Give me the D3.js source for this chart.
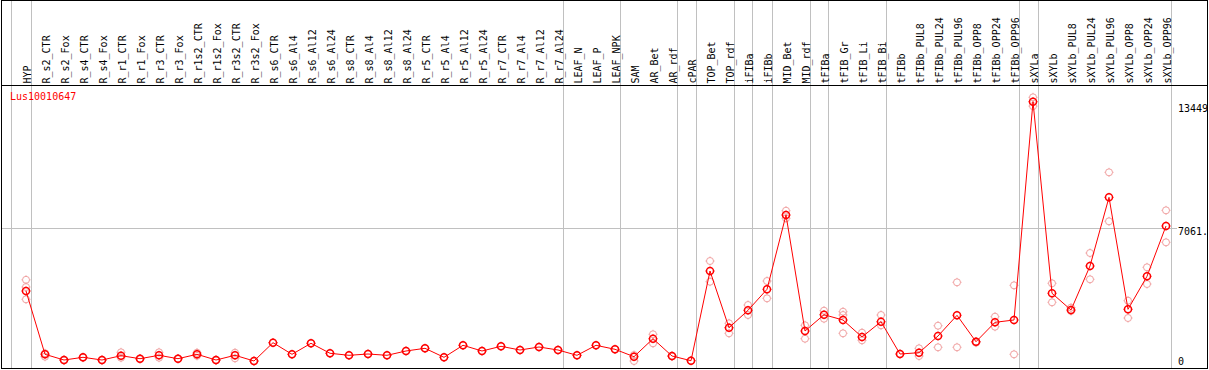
<!DOCTYPE html>
<html lang="en">
<head>
    <meta charset="UTF-8">
    <title>Lus10010647</title>
    <script src="https://d3js.org/d3.v7.min.js"></script>
    <style>
        body { margin: 0; background: #fff; }
        text { font-family: "DejaVu Sans Mono", monospace; font-size: 10px; }
    </style>
</head>
<body>
<div id="chart"></div>
<script>
    const geneId = "Lus10010647";

    const samples = ["HYP", "R_s2_CTR", "R_s2_Fox", "R_s4_CTR", "R_s4_Fox", "R_r1_CTR", "R_r1_Fox",
        "R_r3_CTR", "R_r3_Fox", "R_r1s2_CTR", "R_r1s2_Fox", "R_r3s2_CTR", "R_r3s2_Fox",
        "R_s6_CTR", "R_s6_Al4", "R_s6_Al12", "R_s6_Al24", "R_s8_CTR", "R_s8_Al4", "R_s8_Al12", "R_s8_Al24",
        "R_r5_CTR", "R_r5_Al4", "R_r5_Al12", "R_r5_Al24", "R_r7_CTR", "R_r7_Al4", "R_r7_Al12", "R_r7_Al24",
        "LEAF_N", "LEAF_P", "LEAF_NPK", "SAM", "AR_Bet", "AR_rdf", "cPAR", "TOP_Bet", "TOP_rdf",
        "iFIBa", "iFIBb", "MID_Bet", "MID_rdf", "tFIBa", "tFIB_Gr", "tFIB_Li", "tFIB_Bi", "tFIBb",
        "tFIBb_PUL8", "tFIBb_PUL24", "tFIBb_PUL96", "tFIBb_OPP8", "tFIBb_OPP24", "tFIBb_OPP96",
        "sXYLa", "sXYLb", "sXYLb_PUL8", "sXYLb_PUL24", "sXYLb_PUL96", "sXYLb_OPP8", "sXYLb_OPP24", "sXYLb_OPP96"];

    // mean expression per sample
    const means = [4017, 935, 657, 789, 657, 867, 721, 886, 721, 935, 657, 886, 609,
        1500, 935, 1470, 984, 886, 949, 886, 1096, 1227, 789, 1373, 1096, 1324, 1144, 1290, 1144,
        886, 1373, 1178, 818, 1694, 852, 623, 4991, 2230, 3077, 4100, 7717, 2069,
        2863, 2605, 1777, 2522, 949, 1013, 1826, 2834, 1548, 2493, 2605,
        13234, 3905, 3092, 5234, 8579, 3126, 4733, 7182];

    // replicate values per sample
    const replicates = [[4562, 4212, 3613], [984, 818], [657, 640], [789, 770], [657, 650],
        [1032, 769], [721, 700], [1032, 769], [721, 710], [1013, 860], [657, 640], [1013, 740], [609, 600],
        [1500], [935], [1470], [984], [886], [949], [886], [1096], [1227], [789], [1373], [1096],
        [1324], [1144], [1290], [1144], [886], [1373], [1178], [900, 609], [1909, 1470], [852, 830], [623],
        [5478, 4470], [2444, 1957], [3335, 2848], [4504, 3661], [7927, 7557], [2347, 1694],
        [3058, 2668], [3009, 2848, 1957], [1987, 1616], [2848, 2347], [949], [1227, 852], [2327, 1276],
        [4441, 1276], [1548, 1500], [2766, 2279], [4294, 935], [13449, 13020], [4392, 3467], [3204, 3043],
        [5867, 4587], [9796, 7411], [3545, 2702], [5171, 4358], [7946, 6388]];

    // last sample index of each tissue group (-1 = left edge)
    const groupEnds = [-1, 0, 28, 31, 34, 35, 37, 38, 39, 41, 42, 45, 52, 53, 60];

    const maxValue = 13449;
    const tickValues = [0, 7061, 13449];
    const tickLabels = ["0", "7061.", "13449"];

    const width = 1209;
    const height = 370;
    const headerY = 85.5;
    const bottomY = 368.5;
    const rightX = 1207.5;

    const svg = d3.select("#chart")
        .append("svg")
        .attr("width", width)
        .attr("height", height);

    const x = d3.scaleLinear()
        .domain([0, samples.length - 1])
        .range([26, 1166]);

    const y = d3.scaleLinear()
        .domain([0, maxValue * 1.05])
        .range([373.5, 83.5]);

    const sepX = i => x(i) + 4.5;

    // group separators
    svg.selectAll("line.sep")
        .data(groupEnds)
        .enter()
        .append("line")
        .attr("class", "sep")
        .attr("x1", d => Math.round(sepX(d)) + 0.5)
        .attr("x2", d => Math.round(sepX(d)) + 0.5)
        .attr("y1", 0)
        .attr("y2", bottomY)
        .attr("stroke", "#c0c0c0");

    // mid gridline
    svg.append("line")
        .attr("x1", 1)
        .attr("x2", 1177)
        .attr("y1", Math.round(y(tickValues[1])) + 0.5)
        .attr("y2", Math.round(y(tickValues[1])) + 0.5)
        .attr("stroke", "#c0c0c0");

    // frame
    svg.append("rect")
        .attr("x", 1.5)
        .attr("y", 0.5)
        .attr("width", rightX - 1.5)
        .attr("height", bottomY - 0.5)
        .attr("fill", "none")
        .attr("stroke", "#000");

    svg.append("line")
        .attr("x1", 1.5)
        .attr("x2", rightX)
        .attr("y1", headerY)
        .attr("y2", headerY)
        .attr("stroke", "#000");

    // sample labels
    svg.selectAll("text.sample")
        .data(samples)
        .enter()
        .append("text")
        .attr("class", "sample")
        .attr("transform", (d, i) => `translate(${x(i) + 4.5},${headerY - 2}) rotate(-90)`)
        .attr("fill", "#000")
        .text(d => d);

    svg.append("text")
        .attr("x", 10)
        .attr("y", 100)
        .attr("fill", "red")
        .text(geneId);

    // value labels on the right
    svg.selectAll("text.tick")
        .data(tickValues)
        .enter()
        .append("text")
        .attr("class", "tick")
        .attr("x", 1178)
        .attr("y", d => Math.min(Math.max(y(d) + 7, headerY + 26), bottomY - 3.5))
        .attr("fill", "#000")
        .text((d, i) => tickLabels[i]);

    function marker(g, cx, cy, color, sw) {
        const r = 3.5;
        g.append("circle")
            .attr("cx", cx).attr("cy", cy).attr("r", r)
            .attr("fill", "none").attr("stroke", color).attr("stroke-width", sw);
        [[0, -1], [0, 1], [-1, 0], [1, 0]].forEach(([dx, dy]) => {
            g.append("line")
                .attr("x1", cx + dx * r).attr("y1", cy + dy * r)
                .attr("x2", cx + dx * (r + 1)).attr("y2", cy + dy * (r + 1))
                .attr("stroke", color).attr("stroke-width", 1);
        });
    }

    // replicates
    const repG = svg.append("g");
    replicates.forEach((reps, i) => {
        reps.forEach(v => marker(repG, x(i), y(v), "#f0a0a0", 1));
    });

    // mean line
    const line = d3.line()
        .x((d, i) => x(i))
        .y(d => y(d));

    svg.append("path")
        .datum(means)
        .attr("d", line)
        .attr("fill", "none")
        .attr("stroke", "red")
        .attr("stroke-width", 1);

    const meanG = svg.append("g");
    means.forEach((v, i) => marker(meanG, x(i), y(v), "red", 1.5));
</script>
</body>
</html>
